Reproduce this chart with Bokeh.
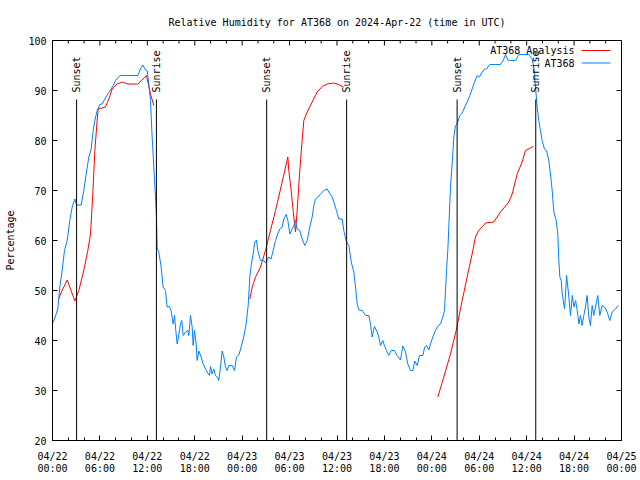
import math
from bokeh.plotting import figure
from bokeh.models import FixedTicker, Range1d, Label, Arrow
from bokeh.core.properties import value
from bokeh.embed import file_html
from bokeh.resources import INLINE

NaN = float("nan")

title_text = "Relative Humidity for AT368 on 2024-Apr-22 (time in UTC)"
y_label = "Percentage"

# hours since 2024-04-22 00:00 UTC
x_tick_hours = [0, 6, 12, 18, 24, 30, 36, 42, 48, 54, 60, 66, 72]
x_tick_labels = ["04/22\n00:00", "04/22\n06:00", "04/22\n12:00", "04/22\n18:00",
                 "04/23\n00:00", "04/23\n06:00", "04/23\n12:00", "04/23\n18:00",
                 "04/24\n00:00", "04/24\n06:00", "04/24\n12:00", "04/24\n18:00",
                 "04/25\n00:00"]
x_minor_hours = [h for h in range(0, 73, 2) if h % 6 != 0]
y_ticks = [20, 30, 40, 50, 60, 70, 80, 90, 100]

sunset_hours = [3.05, 27.1, 51.2]
sunrise_hours = [13.15, 37.22, 61.15]

# AT368 observations
obs_h = [0.1, 0.67, 0.93, 1.22, 1.52, 1.86, 2.19, 2.49, 2.83, 3.04, 3.63, 3.96, 4.26, 4.6, 4.89,
         5.15, 5.36, 5.65, 5.99, 6.28, 6.7, 7.0, 7.34, 7.68, 7.97, 8.52, 9.24, 10.08, 10.8, 11.13,
         11.43, 11.77, 11.98, 12.19, 12.4, 12.61, 12.82, 13.03, 13.16, 13.25, 13.45, 13.75, 14.0,
         14.3, 14.5, 14.8, 15.0, 15.27, 15.44, 15.6, 15.78, 15.94, 16.2, 16.36, 16.54, 16.83, 17.12,
         17.25, 17.46, 17.67, 17.8, 17.97, 18.18, 18.3, 18.52, 18.81, 19.07, 19.36, 19.65, 19.87,
         20.0, 20.2, 20.41, 20.63, 20.84, 21.04, 21.26, 21.47, 21.68, 21.89, 22.1, 22.31, 22.73,
         23.03, 23.28, 23.58, 23.87, 24.2, 24.5, 24.76, 24.97, 25.14, 25.39, 25.6, 25.81, 25.98,
         26.32, 26.74, 26.95, 27.37, 27.66, 27.92, 28.22, 28.5, 28.76, 29.06, 29.27, 29.57, 29.78,
         30.03, 30.33, 30.54, 30.75, 30.96, 31.29, 31.59, 31.93, 32.23, 32.56, 32.86, 33.07, 33.28,
         33.57, 33.91, 34.33, 34.76, 34.96, 35.39, 35.68, 35.93, 36.23, 36.66, 36.86, 37.2, 37.5,
         37.8, 38.13, 38.34, 38.56, 38.76, 39.19, 39.61, 40.03, 40.24, 40.45, 40.74, 41.09, 41.29,
         41.5, 41.8, 42.0, 42.26, 42.55, 42.86, 43.27, 43.61, 44.03, 44.33, 44.67, 44.96, 45.3,
         45.6, 45.85, 46.15, 46.44, 46.86, 47.1, 47.32, 47.62, 47.83, 48.12, 48.46, 48.8, 49.1,
         49.39, 49.6, 49.73, 49.86, 50.02, 50.15, 50.36, 50.57, 50.78, 50.99, 51.2, 51.54, 51.84,
         52.17, 52.47, 52.81, 53.1, 53.4, 53.74, 54.03, 54.37, 54.66, 54.92, 55.33, 56.05, 56.69,
         57.03, 57.32, 57.61, 57.95, 58.59, 59.01, 59.64, 60.27, 60.7, 60.9, 61.12, 61.33, 61.53,
         61.75, 61.96, 62.25, 62.51, 62.8, 63.01, 63.23, 63.44, 63.74, 63.94, 64.07, 64.2, 64.37,
         64.5, 64.63, 64.79, 64.92, 65.05, 65.17, 65.34, 65.55, 65.77, 65.98, 66.19, 66.4, 66.61,
         66.81, 67.02, 67.23, 67.44, 67.65, 67.86, 68.07, 68.29, 68.49, 68.71, 69.0, 69.25, 69.55,
         69.85, 70.19, 70.52, 70.82, 71.24, 71.58]
obs_rh = [43.6, 46.3, 50.7, 54, 58, 60, 64, 66.7, 68.3, 67.1, 67.1, 70, 73.3, 76.7, 78.3,
          82, 84, 86, 87.2, 87.3, 88.5, 89.3, 90.1, 91, 92, 93, 93, 93, 93, 94.3,
          95.1, 94.1, 94, 91.3, 88, 80.7, 74.7, 68.7, 64.7, 58.5, 57.7, 54.7, 50.7,
          50, 46.7, 46.8, 46, 43.3, 45, 42, 39.3, 40.7, 43.3, 44, 41, 41.7, 42,
          41, 45, 42.7, 39, 42, 39.3, 36, 37.9, 36.7, 35.3, 34.3, 33.5, 33,
          34.8, 33.3, 34.3, 33, 32.7, 32, 34.7, 37.9, 36.7, 34.7, 34, 35, 35,
          34, 36.7, 37.1, 38.7, 40.7, 43.3, 47, 52.7, 55, 57.3, 59.7, 60.1, 58,
          56, 56, 55.5, 56.7, 56.3, 58, 60, 61.3, 62.3, 62.7, 64.3, 65.2, 64,
          61.3, 62.3, 63, 64, 62.3, 62, 60.3, 59, 60, 62.7, 64.7, 67, 68.3,
          68.7, 69.3, 70, 70.3, 69.7, 68.7, 67.3, 66, 64.3, 64.3, 62, 59.7, 59,
          55.7, 53.7, 50.7, 47.3, 46.1, 46, 45, 45, 43.3, 40.7, 42.8, 41.7, 40.7,
          39, 40, 39, 38, 37, 38, 38, 37, 36.1, 38.9, 37.7, 35.3, 34,
          34, 35.9, 35, 37, 37, 38.7, 39, 38.1, 39.3, 40.7, 42, 43, 43.3,
          44.7, 46, 50, 54, 58, 62.7, 70.7, 75.3, 80.7, 83, 83.3, 85, 85.5,
          86.7, 87.7, 89, 90.3, 91.7, 93, 92.7, 93.7, 94.3, 94.3, 95.2, 95.2, 95.2,
          96, 97.2, 96.1, 96, 96, 97.2, 97.2, 97.2, 96.3, 94.7, 90.7, 86.7, 84,
          82, 80, 78.3, 78, 76, 73.3, 70, 65.7, 64, 61.3, 56, 52.7, 52,
          49.3, 48, 46.3, 49.3, 53, 51.3, 48.7, 45, 49, 46.7, 48, 46, 43.3,
          45, 43, 45, 46.7, 49, 44.7, 43, 47, 45, 46.7, 49, 45, 47,
          46.7, 45.7, 44, 45.7, 46.3, 47]

# AT368 Analysis (NaN = gap)
ana_h = [0.8, 1.01, 1.86, 2.83, 3.33, 3.96, 4.47, 4.81, 5.1, 5.36, 5.65, 5.78, 6.7, 7.13, 7.55,
         8.18, 8.82, 9.53, 10.8, 11.89, 12.4, 12.82, NaN,
         24.97, 25.27, 25.69, 26.32, 26.95, 27.58, 28.22, 28.77, 29.78, 29.9, 30.2, 30.45, 30.75,
         30.96, 31.29, 31.59, 31.8, 32.23, 32.86, 33.49, 34.13, 34.76, 35.52, 36.23, 36.78, NaN,
         48.76, 49.51, 50.36, 51.12, 51.84, 52.47, 53.1, 53.52, 53.94, 54.79, 55.84, 56.69,
         57.74, 58.17, 58.8, 59.43, 59.85, 60.82]
ana_rh = [48.3, 49.3, 52.1, 47.9, 50, 54, 58, 61.3, 69.3, 78, 84, 86.3, 86.7, 88.3, 90.3,
          91.3, 91.7, 91.3, 91.3, 93, 89.3, 87, NaN,
          48.3, 50.7, 52.7, 54.7, 58, 62, 66, 69.7, 76.7, 74, 70, 66, 61.7,
          66, 74, 80, 84, 85.7, 87.7, 89.7, 90.8, 91.3, 91.5, 91.2, 90.7, NaN,
          28.7, 32.7, 37.3, 42.3, 48, 52.7, 57.3, 60.7, 62, 63.5, 63.7, 65.7,
          67.7, 69.3, 73.3, 75.7, 78, 78.8]

FONT = "DejaVu Sans Mono"
FS = "10px"
RED = "#ff0000"
BLUE = "#0080ff"

X0, X1, Y0, Y1 = 0, 72, 20, 100
FRAME_W, FRAME_H = 569, 400
px_x = (X1 - X0) / FRAME_W   # hours per pixel
px_y = (Y1 - Y0) / FRAME_H   # percent per pixel

p = figure(width=640, height=480, output_backend="svg", toolbar_location=None,
           x_range=Range1d(X0, X1), y_range=Range1d(Y0, Y1),
           min_border_left=52, min_border_right=19, min_border_top=40, min_border_bottom=40,
           title=title_text)
p.title.text_font = FONT
p.title.text_font_size = FS
p.title.text_font_style = "normal"
p.title.text_color = "black"
p.title.align = "center"
p.title.standoff = 25
p.xgrid.visible = False
p.ygrid.visible = False
p.outline_line_color = "black"
p.outline_line_width = 1
p.outline_line_alpha = 1
p.background_fill_color = "white"
p.border_fill_color = "white"

xa = p.xaxis[0]
xa.ticker = FixedTicker(ticks=x_tick_hours, minor_ticks=x_minor_hours)
xa.major_label_overrides = {h: lab for h, lab in zip(x_tick_hours, x_tick_labels)}
xa.axis_line_color = "black"
xa.major_tick_line_color = "black"
xa.minor_tick_line_color = "black"
xa.major_tick_in = 5
xa.major_tick_out = 0
xa.minor_tick_in = 3
xa.minor_tick_out = 0
xa.major_label_text_font = FONT
xa.major_label_text_font_size = FS
xa.major_label_text_color = "black"
xa.major_label_text_line_height = 1.1
xa.major_label_standoff = 10

ya = p.yaxis[0]
ya.ticker = FixedTicker(ticks=y_ticks, minor_ticks=[])
ya.axis_line_color = "black"
ya.major_tick_line_color = "black"
ya.major_tick_in = 5
ya.major_tick_out = 0
ya.minor_tick_in = 0
ya.minor_tick_out = 0
ya.major_label_text_font = FONT
ya.major_label_text_font_size = FS
ya.major_label_text_color = "black"
ya.major_label_standoff = 6
ya.axis_label = y_label
ya.axis_label_text_font = FONT
ya.axis_label_text_font_size = FS
ya.axis_label_text_font_style = "normal"
ya.axis_label_text_color = "black"
ya.axis_label_standoff = 9

# gnuplot-style mirrored inward ticks on top (time) and right (percent)
maj_len, min_len = 5, 3
n_maj, n_min = len(x_tick_hours), len(x_minor_hours)
p.segment(x0=x_tick_hours, y0=[Y1] * n_maj, x1=x_tick_hours, y1=[Y1 - maj_len * px_y] * n_maj,
          line_color="black", line_width=1)
p.segment(x0=x_minor_hours, y0=[Y1] * n_min, x1=x_minor_hours, y1=[Y1 - min_len * px_y] * n_min,
          line_color="black", line_width=1)
p.segment(x0=[X1] * len(y_ticks), y0=y_ticks, x1=[X1 - maj_len * px_x] * len(y_ticks), y1=y_ticks,
          line_color="black", line_width=1)

p.line(ana_h, ana_rh, line_color=RED, line_width=1)
p.line(obs_h, obs_rh, line_color=BLUE, line_width=1)

sun_x = sunset_hours + sunrise_hours
sun_txt = ["Sunset"] * len(sunset_hours) + ["Sunrise"] * len(sunrise_hours)
line_top = 88.2
p.segment(x0=sun_x, y0=[Y0] * len(sun_x), x1=sun_x, y1=[line_top] * len(sun_x),
          line_color="black", line_width=1)
p.text(x=sun_x, y=[line_top + 1.4] * len(sun_x), text=sun_txt, angle=math.pi / 2,
       text_align="left", text_baseline="middle", x_offset=0,
       text_font=value(FONT), text_font_size=FS, text_color="black")

# legend (gnuplot style: text then line sample)
for row_y, lab, col in [(98.0, "AT368 Analysis", RED), (95.5, "AT368", BLUE)]:
    p.add_layout(Label(x=66.05, y=row_y, text=lab, text_align="right", text_baseline="middle",
                       text_font=FONT, text_font_size=FS, text_color="black"))
    p.add_layout(Arrow(end=None, x_start=66.95, y_start=row_y, x_end=70.6, y_end=row_y,
                       line_color=col, line_width=1))

open("out.html", "w").write(file_html(p, INLINE))
